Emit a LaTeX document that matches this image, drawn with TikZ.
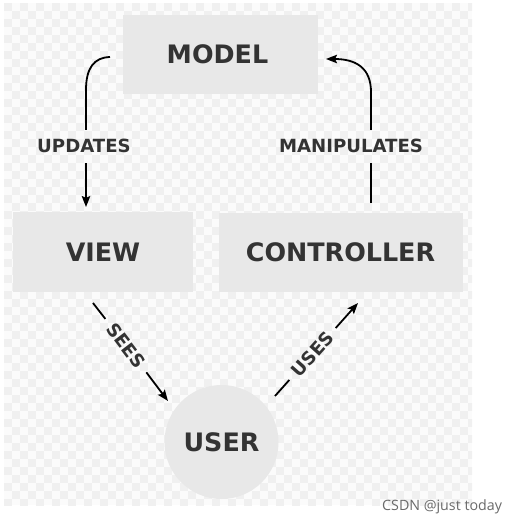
\documentclass[tikz,border=0pt]{standalone}
\usepackage{fontspec}
\setmainfont{DejaVu Sans}
\newfontfamily\wmfont{Open Sans}
\usetikzlibrary{arrows.meta}
\definecolor{txt}{HTML}{333333}
\definecolor{boxfill}{HTML}{E8E8E8}
\definecolor{chkA}{HTML}{FBFBFB}
\definecolor{chkB}{HTML}{F0F0F0}
\definecolor{wm}{HTML}{6A6A6A}
\tikzset{
  box/.style={fill=boxfill, draw=none, inner sep=0pt, text=txt,
    font=\fontsize{25.5}{30}\selectfont\bfseries},
  lbl/.style={text=txt, font=\fontsize{18.2}{21}\selectfont\bfseries,
    text height=13bp, text depth=0bp, inner xsep=8bp, inner ysep=10bp},
  conn/.style={line width=1.8bp, draw=black},
  arr/.style={conn, -{Stealth[length=11bp,width=8.5bp,inset=2bp]}}
}
\begin{document}
\begin{tikzpicture}[x=1bp,y=-1bp]
\useasboundingbox (0,0) rectangle (519,522);
\fill[white] (0,0) rectangle (519,522);
% checker background
\begin{scope}
\clip (4,3) rectangle (472,505);
\fill[chkA] (4,3) rectangle (472,505);
\foreach \a in {0,...,29}{
  \foreach \b in {0,...,31}{
    \fill[chkB] ({4+16*\a},{3+16*\b}) rectangle ++(8,8);
    \fill[chkB] ({12+16*\a},{11+16*\b}) rectangle ++(8,8);
  }
}
\end{scope}

% boxes
\node[box, minimum width=195bp, minimum height=79bp] (model) at (220.5,54.5) {\hspace*{-6bp}MODEL};
\node[box, minimum width=180bp, minimum height=79bp] (view) at (103,252) {VIEW};
\node[box, minimum width=244bp, minimum height=79bp] (ctrl) at (340.5,252.5) {CONTROLLER};
\node[box, circle, minimum size=114bp] (user) at (221.5,442) {USER};

% labels
\node[lbl] (upd) at (84,146.5) {UPDATES};
\node[lbl] (man) at (351,146.5) {MANIPULATES};
\node[lbl, rotate=-52.6] (sees) at (126,345.5) {SEES};
\node[lbl, rotate=48.2] (uses) at (312.5,354) {USES};

% UPDATES connector
\coordinate (u0) at (110,57);
\coordinate (u1) at (86,90);
\coordinate (u2) at (86,207);
\draw[conn] (u0) .. controls (94,57.5) and (86,68) .. (u1) -- (u1 |- upd.north);
\draw[arr] (u1 |- upd.south) -- (u2);

% MANIPULATES connector
\coordinate (m0) at (371,203);
\coordinate (m1) at (371,92);
\coordinate (m2) at (326,59);
\draw[conn] (m0) -- (m0 |- man.south);
\draw[arr] (m1 |- man.north) -- (m1) .. controls (371,68) and (356,59) .. (m2);

% SEES connector
\coordinate (s0) at (93,303);
\coordinate (s1) at (168,401);
\draw[conn] (s0) -- (sees);
\draw[arr] (sees) -- (s1);

% USES connector
\coordinate (w0) at (275,396);
\coordinate (w1) at (358,303);
\draw[conn] (w0) -- (uses);
\draw[arr] (uses) -- (w1);

% watermark
\node[anchor=base west, inner sep=0pt, text=wm, font=\wmfont\fontsize{14.3}{17}\selectfont] (wmk) at (382,510) {CSDN @just today};
\end{tikzpicture}
\end{document}
